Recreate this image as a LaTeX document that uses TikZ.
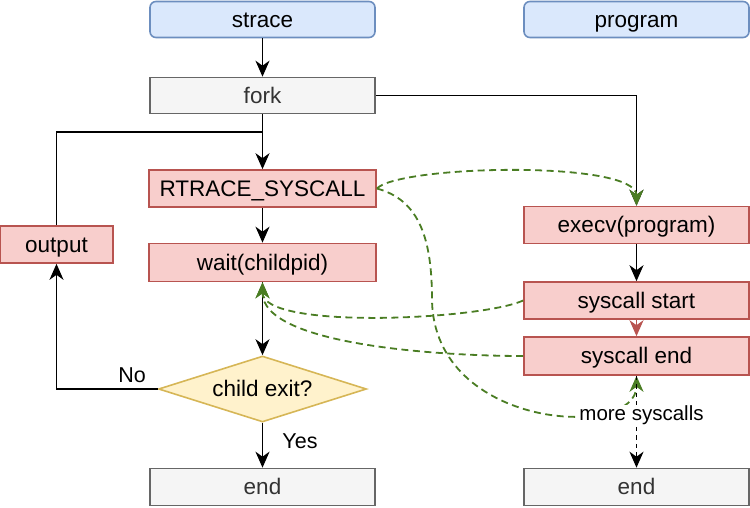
\documentclass[tikz,border=0pt]{standalone}
\usepackage{fontspec}
\setmainfont{Liberation Sans}
\usetikzlibrary{shapes.geometric,arrows.meta}
\definecolor{bluefill}{HTML}{DAE8FC}
\definecolor{bluedraw}{HTML}{6C8EBF}
\definecolor{greyfill}{HTML}{F5F5F5}
\definecolor{greydraw}{HTML}{666666}
\definecolor{greytext}{HTML}{333333}
\definecolor{redfill}{HTML}{F8CECC}
\definecolor{reddraw}{HTML}{B85450}
\definecolor{yelfill}{HTML}{FFF2CC}
\definecolor{yeldraw}{HTML}{D6B656}
\definecolor{gline}{HTML}{4A7D23}
\tikzset{
  box/.style={draw, line width=1.6pt, minimum width=225pt, minimum height=36pt, inner sep=0pt, text height=20pt, text depth=4.8pt, font=\fontsize{22.5}{26}\selectfont},
  bluebox/.style={box, fill=bluefill, draw=bluedraw, rounded corners=6pt},
  greybox/.style={box, fill=greyfill, draw=greydraw, text=greytext},
  redbox/.style={box, fill=redfill, draw=reddraw},
  decision/.style={diamond, draw=yeldraw, fill=yelfill, line width=1.6pt, minimum width=208pt, minimum height=66pt, inner sep=0pt, aspect=3.15, text height=20pt, text depth=4.8pt, font=\fontsize{22.5}{26}\selectfont},
  arr/.style={line width=1.8pt, -{Stealth[length=16pt,width=14pt,inset=5pt]}},
  gdash/.style={arr, draw=gline, dash pattern=on 7pt off 4.5pt},
  lab/.style={font=\fontsize{21.5}{24}\selectfont, inner sep=1pt},
  labs/.style={font=\fontsize{20.5}{23}\selectfont, inner sep=1pt, fill=white}
}
\begin{document}
\begin{tikzpicture}[x=1pt,y=-1pt]
\useasboundingbox (0,0) rectangle (750,507);
\node[bluebox] (strace) at (262.5,19.5) {strace};
\node[bluebox] (program) at (636.5,19.5) {program};
\node[greybox] (fork) at (262.5,95.5) {fork};
\node[redbox, minimum width=227pt, minimum height=37pt] (rt) at (262.5,188.5) {RTRACE\_SYSCALL};
\node[redbox, minimum width=227pt, minimum height=38pt] (wait) at (262.5,262.5) {wait(childpid)};
\node[redbox, minimum width=113pt, minimum height=37pt] (output) at (56.5,244.5) {output};
\node[redbox, minimum height=37pt] (execv) at (636.5,225) {execv(program)};
\node[redbox, minimum height=37pt] (sstart) at (636.5,300.5) {syscall start};
\node[redbox, minimum height=38pt] (send) at (636.5,356) {syscall end};
\node[decision] (dec) at (262.5,389) {child exit?};
\node[greybox, minimum height=37pt] (endl) at (262.5,487) {end};
\node[greybox, minimum height=37pt] (endr) at (636.5,487) {end};
\node[lab] (nolab) at (132,375) {No};
\node[lab] (yeslab) at (300,441) {Yes};

\coordinate (join) at (262.5,132);
\draw[arr] (strace) -- (fork);
\draw[line width=1.8pt] (output.north) |- (join);
\draw[arr] (fork) -- (rt);
\draw[arr] (fork.east) -| (execv.north);
\draw[arr] (rt) -- (wait);
\draw[arr] (wait) -- (dec);
\draw[arr] (dec.west) -| (output.south);
\draw[arr] (dec) -- (endl);
\draw[arr] (execv) -- (sstart);
\draw[arr, draw=reddraw] (sstart) -- (send);

\coordinate (mid) at (432,300);
\draw[gdash] (rt.east) .. controls (400,165) and (636.5,160) .. (execv.north);
\draw[gdash] (rt.east) .. controls (420,200) and (432,240) .. (mid)
  .. controls (434,430) and (636.5,440) .. (send.south);
\draw[gdash] (sstart.west) .. controls (480,320) and (262.5,330) .. (wait.south);
\draw[gdash] (send.west) .. controls (440,356) and (262.5,345) .. (wait.south);

\draw[arr, dash pattern=on 4.5pt off 4pt] (send) -- node[labs, pos=0.43, xshift=5pt] {more syscalls} (endr);
\end{tikzpicture}
\end{document}
